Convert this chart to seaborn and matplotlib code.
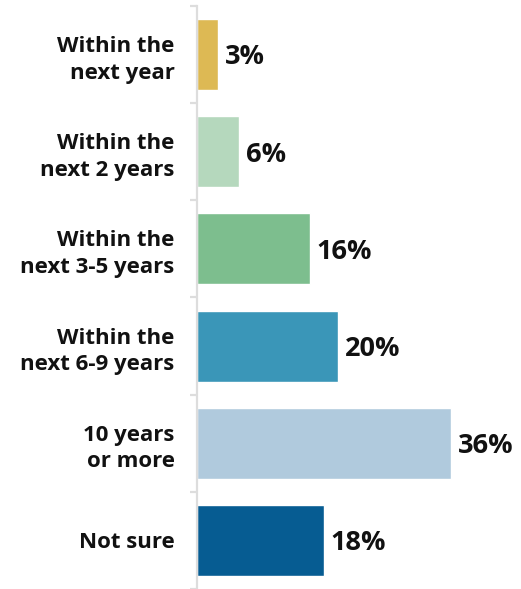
import matplotlib
matplotlib.use("Agg")
import matplotlib.pyplot as plt
import seaborn as sns
import pandas as pd
import numpy as np

categories = ["Within the\nnext year", "Within the\nnext 2 years", "Within the\nnext 3-5 years",
              "Within the\nnext 6-9 years", "10 years\nor more", "Not sure"]
values = [3, 6, 16, 20, 36, 18]
colors = ["#DDB954", "#B5D8BD", "#7DBE8E", "#3A96B8", "#B0CADD", "#065C92"]

sns.set_style("white")
plt.rcParams['font.family'] = ['Open Sans', 'DejaVu Sans']

df = pd.DataFrame({"cat": categories, "val": values})

fig = plt.figure(figsize=(5.21, 5.89), dpi=100)
ax = fig.add_axes([0.378, 0.0, 0.622, 0.99])
sns.barplot(data=df, y="cat", x="val", hue="cat", palette=colors, orient="h",
            width=0.73, legend=False, ax=ax, saturation=1)

ax.set_xlim(0, 46.0)
ax.set_ylim(5.5, -0.5)
ax.set_xlabel("")
ax.set_ylabel("")
ax.set_xticks([])
for s in ["top", "right", "bottom"]:
    ax.spines[s].set_visible(False)
ax.spines["left"].set_color("#DDDDDD")
ax.spines["left"].set_linewidth(1.6)

ax.set_yticks(range(len(categories)))
ax.set_yticklabels(categories, fontsize=16, fontweight="bold", color="#111111", linespacing=1.36)
ax.tick_params(axis="y", which="major", left=False, length=0, pad=16)
ax.set_yticks(np.arange(-0.5, 6, 1), minor=True)
ax.tick_params(axis="y", which="minor", left=True, length=5, width=1.6, color="#DDDDDD")

for i, v in enumerate(values):
    ax.text(v + 1.0, i + 0.03, f"{v}%", va="center", ha="left", fontsize=19.5,
            fontweight="bold", color="#111111")

fig.savefig("out.png", dpi=100)
